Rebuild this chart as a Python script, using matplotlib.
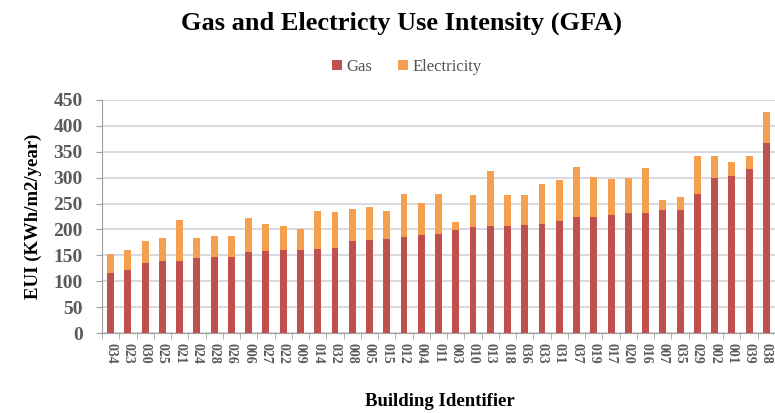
import matplotlib
matplotlib.use("Agg")
import matplotlib.pyplot as plt
import numpy as np

buildings = ["034", "023", "030", "025", "021", "024", "028", "026", "006", "027",
             "022", "009", "014", "032", "008", "005", "015", "012", "004", "011",
             "003", "010", "013", "018", "036", "033", "031", "037", "019", "017",
             "020", "016", "007", "035", "029", "002", "001", "039", "038"]
gas = [116, 121, 136, 139, 139, 144, 147, 147, 157, 158,
       160, 161, 163, 165, 177, 180, 182, 186, 190, 192,
       198, 205, 206, 206, 209, 211, 216, 224, 224, 227,
       231, 231, 237, 237, 268, 300, 303, 316, 367]
total = [153, 161, 177, 183, 218, 184, 187, 187, 222, 211,
         207, 200, 236, 233, 239, 244, 235, 268, 252, 268,
         215, 267, 313, 266, 266, 287, 295, 321, 302, 298,
         300, 319, 256, 262, 342, 342, 331, 342, 427]
electricity = [t - g for t, g in zip(total, gas)]
yticks = [0, 50, 100, 150, 200, 250, 300, 350, 400, 450]

GAS_C = "#c0504d"
ELEC_C = "#f5a04e"
SERIF = ["Liberation Serif", "DejaVu Serif"]

fig = plt.figure(figsize=(7.75, 4.13), dpi=100)
ax = fig.add_axes([102/775, 1-333/413, 1-102/775, (333-100)/413])

x = np.arange(len(buildings))
ax.bar(x, gas, width=0.4, color=GAS_C, label="Gas", zorder=3)
ax.bar(x, electricity, bottom=gas, width=0.4, color=ELEC_C, label="Electricity", zorder=3)

ax.set_xlim(-0.5, len(buildings) - 0.5)
ax.set_ylim(0, 450)
ax.set_yticks(yticks)
ax.set_yticklabels([str(v) for v in yticks], fontfamily=SERIF, fontsize=14,
                   fontweight="bold", color="#5a5a5a")
ax.set_xticks(x)
ax.set_xticklabels(buildings, rotation=-90, fontfamily=SERIF, fontsize=10,
                   fontweight="bold", color="#5a5a5a")
ax.tick_params(axis="x", length=0, pad=7)
ax.set_xticks(np.arange(-0.5, len(buildings), 1), minor=True)
ax.tick_params(axis="x", which="minor", length=4, color="#8fb08f", direction="out")
ax.tick_params(axis="y", length=4, color="#a0a0a0", pad=10)

ax.grid(axis="y", color="#d6d6e2", linewidth=1.3, zorder=0)
for s in ["top", "right"]:
    ax.spines[s].set_visible(False)
ax.spines["left"].set_color("#a0a0a0")
ax.spines["bottom"].set_color("#a0a0a0")

ax.set_ylabel("EUI (KWh/m2/year)", fontfamily=SERIF, fontweight="bold", fontsize=13.5, labelpad=8)
fig.text(0.567, 1-402/413, "Building Identifier", ha="center", va="center",
         fontfamily=SERIF, fontweight="bold", fontsize=13.5)
fig.text(0.518, 1-23/413, "Gas and Electricty Use Intensity (GFA)", ha="center", va="center",
         fontfamily=SERIF, fontweight="bold", fontsize=19)

leg = fig.legend(loc="center", bbox_to_anchor=(0.525, 1-67/413), ncol=2, frameon=False,
                 prop={"family": SERIF, "size": 12}, handlelength=0.6, handleheight=0.6,
                 handletextpad=0.3, columnspacing=1.5)
for t in leg.get_texts():
    t.set_color("#555555")

fig.savefig("out.png", dpi=100)
